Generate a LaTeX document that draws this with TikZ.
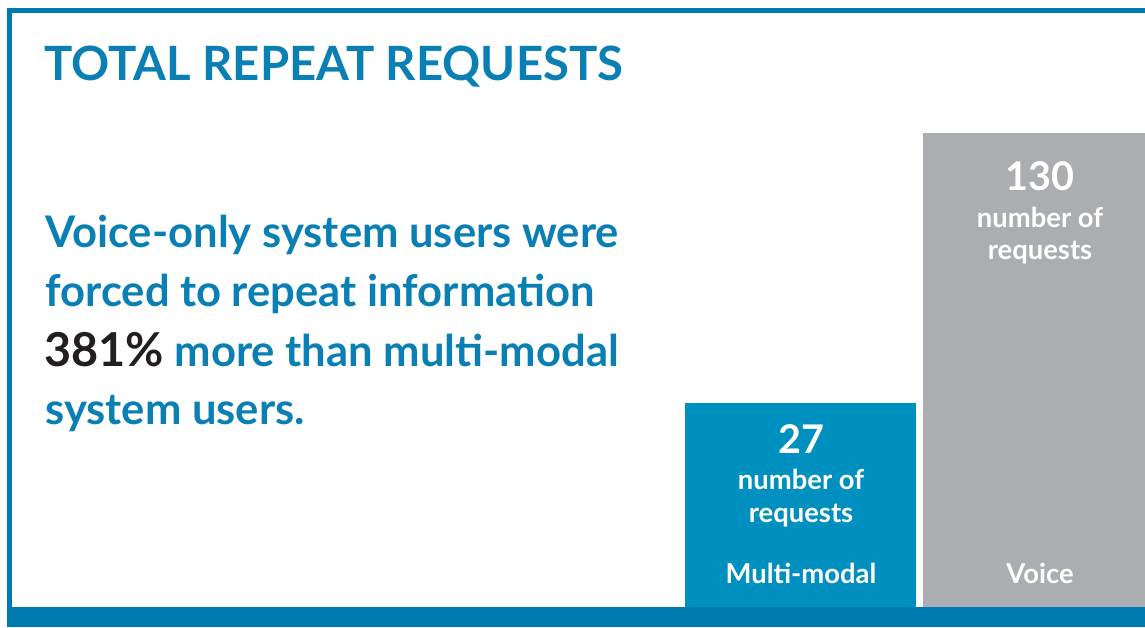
\documentclass[tikz,border=0pt]{standalone}
\usepackage{fontspec}
\setmainfont{Lato}
\usepackage{tikz}
\usetikzlibrary{positioning,calc}

\definecolor{titleblue}{HTML}{0A7FB4}
\definecolor{barblue}{HTML}{0090C0}
\definecolor{framblue}{HTML}{007BB0}
\definecolor{bargray}{HTML}{ABADB1}
\definecolor{numblack}{HTML}{231F20}

\tikzset{
  bar/.style={inner sep=0pt,outer sep=0pt,anchor=south west},
  txt/.style={inner sep=0pt,anchor=base west,text=titleblue,font=\bfseries\fontsize{24.8}{28}\selectfont},
  bignum/.style={inner sep=0pt,anchor=base,text=white,font=\bfseries\fontsize{22.5}{24}\selectfont},
  small/.style={inner sep=0pt,anchor=base,text=white,font=\bfseries\fontsize{15.6}{18}\selectfont}
}

\begin{document}
\begin{tikzpicture}[x=0.02cm,y=-0.02cm]
		\useasboundingbox (0,0) rectangle (1145,627);
		
		% frame
		\fill[framblue] (7,8) rectangle (1145,13);
		\fill[framblue] (7,8) rectangle (12,607);
		\fill[framblue] (7,607) rectangle (1145,627);
		
		\node[inner sep=0pt,anchor=base west,text=titleblue,font=\bfseries\fontsize{26.9}{30}\selectfont] (title) at (44,80) {TOTAL REPEAT REQUESTS};
		
		\node[txt] (l1) at (45,247) {Voice-only system users were};
		\node[txt] (l2) at (45,306) {forced to repeat information};
		\node[txt] (l3) at (44,366) {\textcolor{numblack}{\fontsize{26.6}{28}\selectfont 381\%} more than multi-modal};
		\node[txt] (l4) at (45,424) {system users.};
		
		% bars
		\node[bar,fill=barblue,minimum width=231*0.02cm,minimum height=204*0.02cm] (mm) at (685,607) {};
		\node[bar,fill=bargray,minimum width=222*0.02cm,minimum height=474*0.02cm] (vo) at (923,607) {};
		
		\node[bignum] (n27) at (801,453) {27};
		\node[small] (mmnum) at (801,489) {number of};
		\node[small] (mmreq) at (801,522) {requests};
		\node[small] (mmlab) at (801,583) {Multi-modal};
		
		\node[bignum] (n130) at (1040,190) {130};
		\node[small] (vonum) at (1040,227) {number of};
		\node[small] (voreq) at (1040,259) {requests};
		\node[small] (volab) at (1040,583) {Voice};
	\end{tikzpicture}
\end{document}
